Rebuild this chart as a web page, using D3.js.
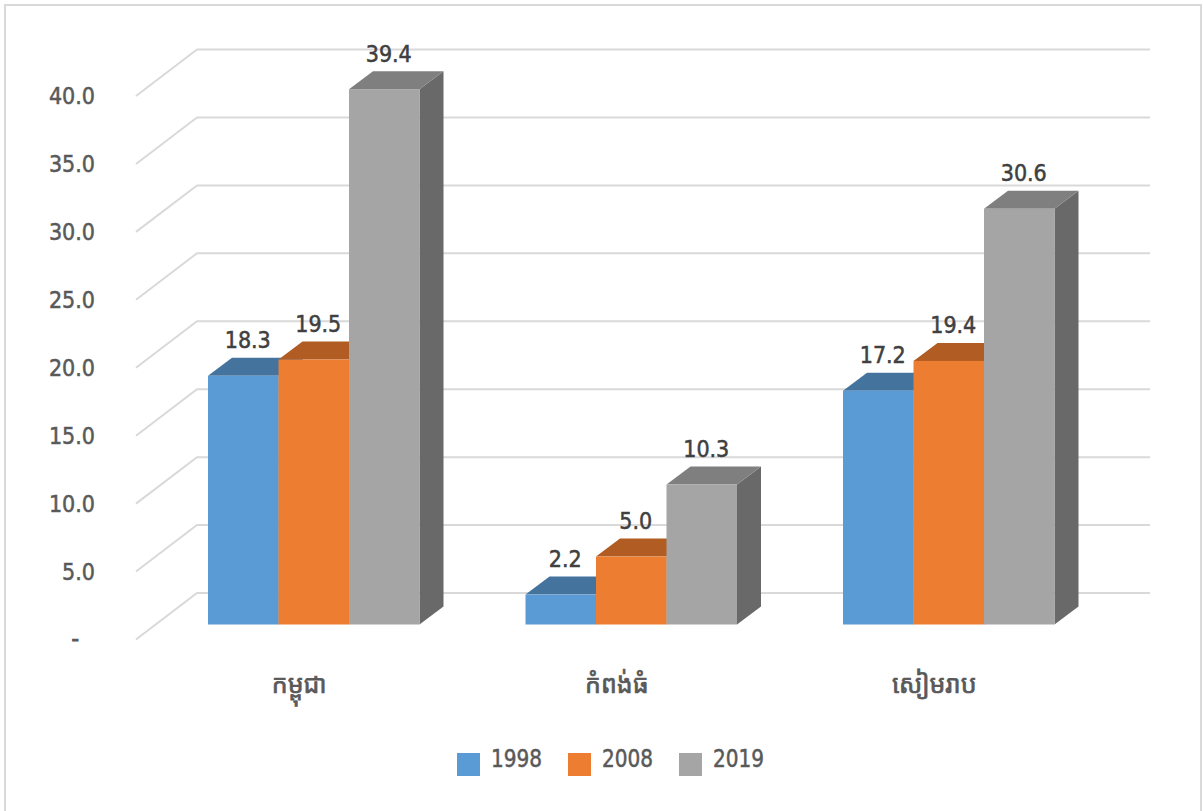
<!DOCTYPE html>
<meta charset="utf-8">
<head>
<style>
body { margin: 0; background: #fff; }
text { font-family: 'DejaVu Sans Condensed', 'DejaVu Sans', sans-serif; }
.axis text { font-size: 23px; fill: #595959; stroke: #595959; stroke-width: 0.5px; }
.value { font-size: 23px; fill: #404040; stroke: #404040; stroke-width: 0.5px; text-anchor: middle; }
.cat { font-size: 25px; fill: #595959; stroke: #595959; stroke-width: 0.7px; text-anchor: middle; font-family: 'Noto Sans Khmer', 'Khmer OS', 'Noto Sans', sans-serif; }
.legend { font-size: 24px; fill: #595959; stroke: #595959; stroke-width: 0.5px; }
</style>
<script src="https://d3js.org/d3.v7.min.js"></script>
</head>
<body>
<svg id="chart" width="1203" height="811"></svg>
<script>

var categories = ["កម្ពុជា", "កំពង់ធំ", "សៀមរាប"]
var years = ["1998", "2008", "2019"]
var values1998 = [18.3, 2.2, 17.2]
var values2008 = [19.5, 5.0, 19.4]
var values2019 = [39.4, 10.3, 30.6]
var yTicks = [0, 5, 10, 15, 20, 25, 30, 35, 40]

var series = [values1998, values2008, values2019]
var front = ["#5B9BD5", "#ED7D31", "#A5A5A5"]
var top_ = ["#44739E", "#B05C22", "#7F7F7F"]
var side = ["#3F6C96", "#A85820", "#696969"]

var svg = d3.select("#chart")

// outer frame
svg.append("rect")
  .attr("x", 5).attr("y", 5)
  .attr("width", 1196).attr("height", 820)
  .attr("fill", "none").attr("stroke", "#d9d9d9").attr("stroke-width", 2)

// y is the front face of the bars, walls sit before and behind it
var y = d3.scaleLinear().domain([0, 40]).range([624.5, 81])
var x0 = d3.scaleBand().domain(categories).range([136, 1088.5])
var x1 = d3.scaleBand().domain(d3.range(3)).range([72, 283.5])

var barDx = 24, barDy = 18
var wallDx = 61, wallFront = 15, wallBack = -31.5

// gridlines with the slanted part on the side wall
svg.append("g").selectAll("path")
  .data(yTicks)
  .enter().append("path")
  .attr("fill", "none")
  .attr("stroke", "#d9d9d9")
  .attr("stroke-width", 2)
  .attr("d", function(d) {
    var yf = y(d) + wallFront, yb = y(d) + wallBack
    return "M136," + yf + "L" + (136 + wallDx) + "," + yb + "L1150," + yb
  })

// y axis
var axis = d3.axisLeft(y)
  .tickValues(yTicks)
  .tickSize(0)
  .tickPadding(0)
  .tickFormat(function(d) { return d === 0 ? "-" : d3.format(".1f")(d) })

var axisG = svg.append("g")
  .attr("class", "axis")
  .attr("transform", "translate(95," + (wallFront + 0.5) + ")")
  .call(axis)
axisG.select(".domain").remove()
axisG.selectAll(".tick text").filter(function(d) { return d === 0 })
  .attr("dx", -16)
  .attr("y", -2)
  .style("stroke-width", "1px")

// bars, left to right so each one hides the side of the one before
categories.forEach(function(cat, c) {
  series.forEach(function(vals, s) {
    var v = vals[c]
    var xl = x0(cat) + x1(s)
    var xr = xl + x1.bandwidth()
    var yt = y(v), yb = y(0)
    var g = svg.append("g")

    g.append("path")
      .attr("fill", side[s])
      .attr("d", "M" + xr + "," + yt + "L" + (xr + barDx) + "," + (yt - barDy) +
        "L" + (xr + barDx) + "," + (yb - barDy) + "L" + xr + "," + yb + "Z")
    g.append("path")
      .attr("fill", top_[s])
      .attr("d", "M" + xl + "," + yt + "L" + (xl + barDx) + "," + (yt - barDy) +
        "L" + (xr + barDx) + "," + (yt - barDy) + "L" + xr + "," + yt + "Z")
    g.append("rect")
      .attr("x", xl).attr("y", yt)
      .attr("width", x1.bandwidth()).attr("height", yb - yt)
      .attr("fill", front[s])
  })
})

// value labels on top so the neighbour bars dont cover them
categories.forEach(function(cat, c) {
  series.forEach(function(vals, s) {
    svg.append("text")
      .attr("class", "value")
      .attr("x", x0(cat) + x1(s) + x1.bandwidth() / 2 + 4.5)
      .attr("y", y(vals[c]) - barDy - 9.5)
      .text(d3.format(".1f")(vals[c]))
  })
})

// category labels
svg.selectAll(".cat")
  .data(categories)
  .enter().append("text")
  .attr("class", "cat")
  .attr("x", function(d) { return x0(d) + x0.bandwidth() / 2 + 4.5 })
  .attr("y", 693)
  .text(function(d) { return d })

// legend
var legend = svg.selectAll(".lg")
  .data(years)
  .enter().append("g")
  .attr("transform", function(d, i) { return "translate(" + (457 + i * 111) + ",753)" })
legend.append("rect")
  .attr("width", 23).attr("height", 23)
  .attr("fill", function(d, i) { return front[i] })
legend.append("text")
  .attr("class", "legend")
  .attr("x", 34).attr("y", 14)
  .attr("textLength", 51)
  .attr("lengthAdjust", "spacingAndGlyphs")
  .text(function(d) { return d })

</script>
</body>
